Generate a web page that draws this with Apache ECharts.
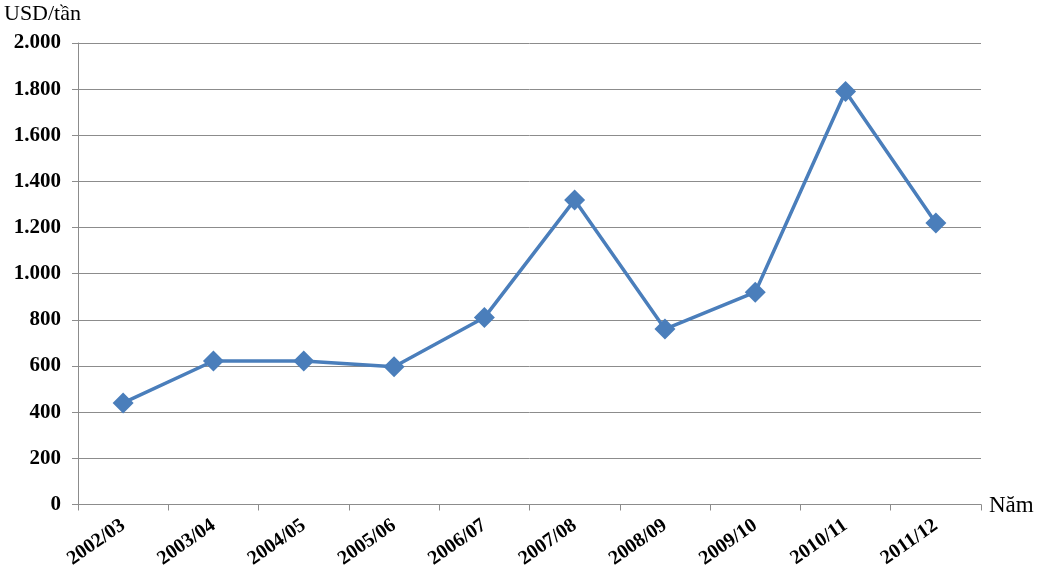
<!DOCTYPE html>
<html>
<head>
<meta charset="utf-8">
<script src="https://cdn.jsdelivr.net/npm/echarts@6/dist/echarts.min.js"></script>
<style>html,body{margin:0;padding:0;background:#fff}#c{width:1041px;height:571px}</style>
</head>
<body>
<div id="c"></div>
<script>
const categories = ['2002/03','2003/04','2004/05','2005/06','2006/07','2007/08','2008/09','2009/10','2010/11','2011/12'];
const prices = [440, 622, 622, 597, 810, 1320, 760, 920, 1790, 1220];
const yTicks = {min: 0, max: 2000, interval: 200};
const yName = 'USD/tần';
const xName = 'Năm';

const chart = echarts.init(document.getElementById('c'), null, {renderer: 'canvas'});
const font = '"Liberation Serif", "Times New Roman", serif';
chart.setOption({
  animation: false,
  backgroundColor: '#fff',
  grid: {left: 78, right: 60, top: 43, bottom: 66, containLabel: false},
  xAxis: {
    type: 'category',
    data: categories,
    boundaryGap: true,
    axisLine: {lineStyle: {color: '#8c8c8c', width: 1}},
    axisTick: {show: true, length: 6, lineStyle: {color: '#8c8c8c'}},
    axisLabel: {rotate: 35, margin: 19, color: '#000', fontFamily: font, fontWeight: 'bold', fontSize: 20, interval: 0},
    splitLine: {show: false}
  },
  yAxis: {
    type: 'value',
    min: yTicks.min, max: yTicks.max, interval: yTicks.interval,
    axisLine: {show: true, lineStyle: {color: '#8c8c8c', width: 1}},
    axisTick: {show: true, length: 6, lineStyle: {color: '#8c8c8c'}},
    axisLabel: {margin: 17, color: '#000', fontFamily: font, fontWeight: 'bold', fontSize: 21,
      formatter: v => v.toString().replace(/\B(?=(\d{3})+(?!\d))/g, '.')},
    splitLine: {show: true, lineStyle: {color: '#8c8c8c', width: 1}}
  },
  graphic: [
    {type: 'text', left: 4, top: 3, style: {text: yName, font: '22px ' + font, fill: '#000'}},
    {type: 'text', left: 989, top: 494, style: {text: xName, font: '23px ' + font, fill: '#000'}}
  ],
  series: [{
    type: 'line',
    data: prices,
    symbol: 'diamond',
    symbolSize: 21,
    lineStyle: {color: '#4a7ebb', width: 3.5},
    itemStyle: {color: '#4a7ebb'},
    z: 3
  }]
});
</script>
</body>
</html>
